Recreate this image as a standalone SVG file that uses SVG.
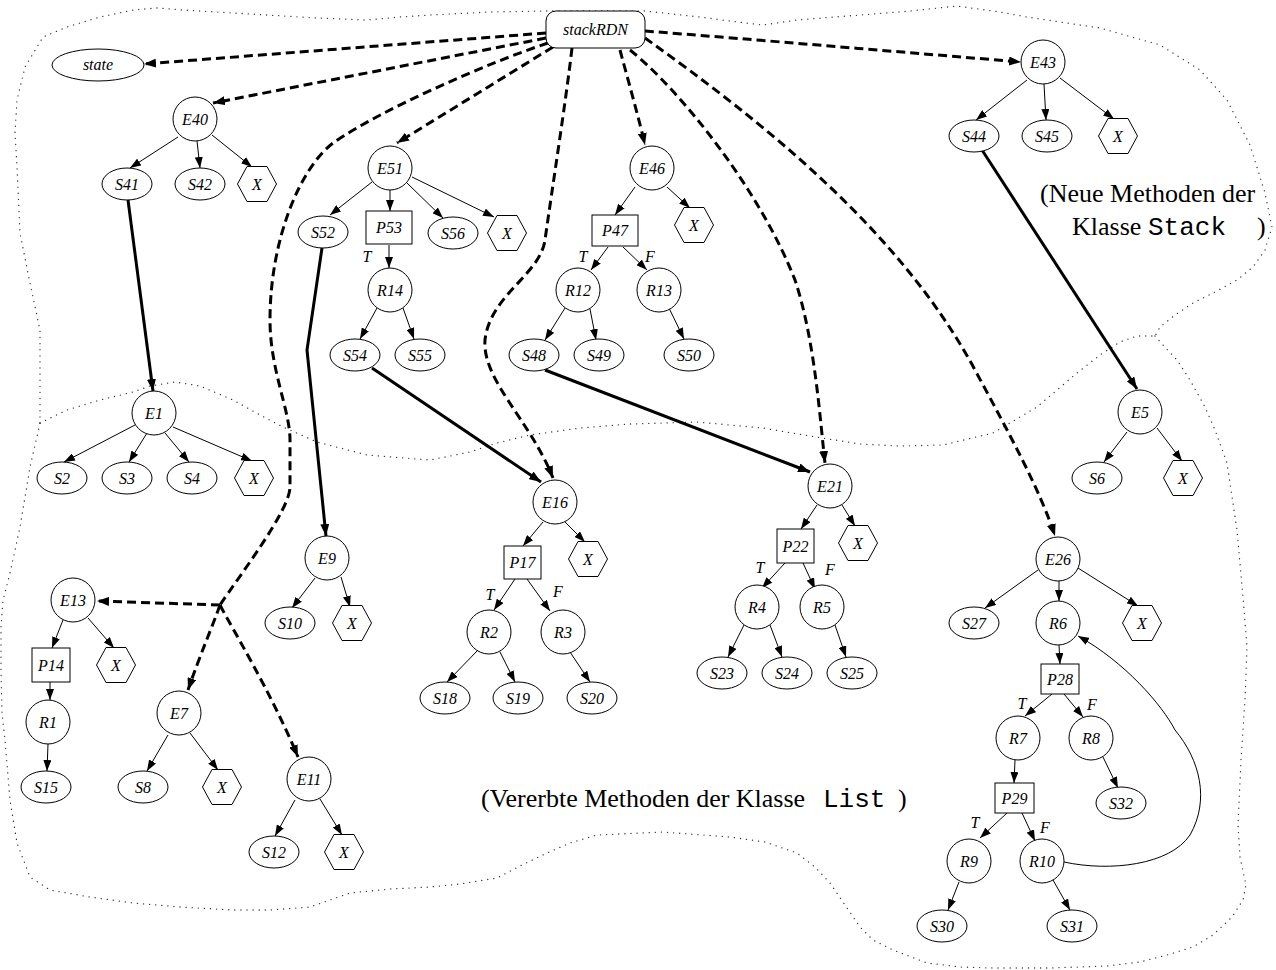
<svg xmlns="http://www.w3.org/2000/svg" xmlns:xlink="http://www.w3.org/1999/xlink" width="1276" height="970" viewBox="0 0 1276 970">
<style>
.th { stroke:#000; stroke-width:1; fill:none; marker-end:url(#ah); }
.da { stroke:#000; stroke-width:3; stroke-dasharray:9 5; fill:none; }
.dah { marker-end:url(#ahb); }
.so { stroke:#000; stroke-width:3; fill:none; marker-end:url(#ahb); }
.dot { stroke:#333; stroke-width:1.3; stroke-dasharray:0.1 6; stroke-linecap:round; stroke-linejoin:round; fill:none; }
.nd circle, .nd ellipse, .nd rect, .nd use { fill:#fff; stroke:#000; stroke-width:1; }
text.l { font-family:"Liberation Serif", "Times New Roman", serif; font-style:italic; font-size:16px; text-anchor:middle; fill:#000; }
text.big { font-family:"Liberation Serif", "Times New Roman", serif; font-size:26px; fill:#000; }
text.mono { font-family:"Liberation Mono", "Courier New", monospace; font-size:26px; fill:#000; }
</style>
<defs>
<marker id="ah" viewBox="0 0 11 8" refX="11" refY="4" markerWidth="11" markerHeight="8" markerUnits="userSpaceOnUse" orient="auto"><path d="M0,0 L11,4 L0,8z" fill="#000"/></marker>
<marker id="ahb" viewBox="0 0 12 9" refX="12" refY="4.5" markerWidth="12" markerHeight="9" markerUnits="userSpaceOnUse" orient="auto"><path d="M0,0 L12,4.5 L0,9z" fill="#000"/></marker>
<polygon id="hex" points="-19.5,0 -10,-17.5 10,-17.5 19.5,0 10,17.5 -10,17.5"/>
</defs>
<rect width="1276" height="970" fill="#fff"/>

<!-- dotted region outlines -->
<g id="regions">
<path class="dot" d="M40,423 L40,380 L40,330 L30,283 L20,233 L17,167 L15,133 L17,100 L25,67 L43,37 L67,27 L100,17 L133,10 L157,8 L183,10 L217,12 L267,15 L317,18 L367,20 L400,17 L430,15 L490,12 L546,11 L645,11 L700,17 L730,21 L763,25 L797,20 L860,15 L910,11 L957,6 L1000,12 L1027,17 L1100,28 L1160,45 L1200,70 L1227,100 L1250,145 L1265,193 L1272,227 L1265,250 L1253,267 L1237,280 L1215,292 L1193,303 L1175,315 L1160,327 L1155,336"/>
<path class="dot" d="M40,423 L67,410 L100,400 L133,392 L150,386 L175,382 L200,386 L233,400 L260,415 L283,427 L317,442 L367,455 L430,460 L470,452 L497,443 L530,435 L580,428 L630,424 L697,422 L763,428 L810,436 L860,444 L900,446 L943,445 L993,433 L1037,407 L1077,373 L1100,355 L1120,342 L1137,336 L1155,336"/>
<path class="dot" d="M1155,336 L1163,345 L1177,360 L1190,380 L1205,407 L1215,430 L1227,463 L1237,530 L1243,597 L1247,647 L1245,700 L1241,760 L1238,825 L1240,857 L1246,885 L1243,900 L1232,917 L1213,935 L1193,947 L1167,955 L1140,962 L1107,966 L1050,968 L993,968 L960,967 L927,963 L893,950 L873,940 L860,927 L845,905 L830,883 L815,867 L797,853 L765,842 L730,837 L663,832 L597,835 L570,843 L547,853 L520,866 L497,878 L460,884 L430,887 L390,889 L350,893 L330,900 L310,907 L270,910 L233,910 L180,907 L133,903 L90,897 L50,890 L30,877 L17,843 L10,800 L5,740 L2,713 L1,670 L1,627 L3,600 L10,573 L20,527 L30,467 L40,423"/>
</g>

<g id="connectors">
<!-- dashed references from stackRDN -->
<path class="da dah" d="M546,33 L144,64"/>
<path class="da dah" d="M546,38 L213,103"/>
<path class="da dah" d="M553,47 L397,143"/>
<path class="da" d="M548,43 C490,62 380,110 333,143 C300,168 270,240 270,320 C270,370 290,410 290,440 L290,487 C290,510 240,575 220,605"/>
<path class="da dah" d="M220,605 L97,601"/>
<path class="da dah" d="M220,605 C213,625 200,655 188,690"/>
<path class="da dah" d="M220,605 C230,625 270,690 298,757"/>
<path class="da dah" d="M572,48 C566,100 552,190 545,240 C540,275 490,295 485,340 C482,380 530,420 553,478"/>
<path class="da dah" d="M620,50 C628,80 638,115 645,145"/>
<path class="da dah" d="M630,50 C680,90 760,190 795,280 C815,340 820,420 825,463"/>
<path class="da dah" d="M645,38 C760,120 900,230 975,370 C1010,435 1040,490 1055,536"/>
<path class="da dah" d="M645,31 C760,40 900,52 1021,62"/>
<!-- thick solid links -->
<path class="so" d="M128,200 L153,391"/>
<path class="so" d="M322,248 L307,350 L326,536"/>
<path class="so" d="M372,368 L541,482"/>
<path class="so" d="M545,370 L810,472"/>
<path class="so" d="M982,150 L1137,389"/>
<!-- back edge R10 -> R6 -->
<path class="th" d="M1064,862 C1110,872 1170,865 1190,835 C1210,800 1200,760 1175,730 C1162,705 1125,662 1078,636"/>
<!-- tree edges -->
<path class="th" d="M178,137 L130,168"/>
<path class="th" d="M197,141 L200,168"/>
<path class="th" d="M212,135 L252,167"/>
<path class="th" d="M372,182 L330,215"/>
<path class="th" d="M390,190 L390,211"/>
<path class="th" d="M407,183 L443,218"/>
<path class="th" d="M412,177 L494,217"/>
<path class="th" d="M389,245 L389,268"/>
<path class="th" d="M377,308 L360,339"/>
<path class="th" d="M403,308 L414,339"/>
<path class="th" d="M635,187 L615,215"/>
<path class="th" d="M667,187 L690,208"/>
<path class="th" d="M608,247 L591,270"/>
<path class="th" d="M623,247 L647,270"/>
<path class="th" d="M565,308 L545,340"/>
<path class="th" d="M590,309 L596,340"/>
<path class="th" d="M669,308 L684,339"/>
<path class="th" d="M1027,80 L976,120"/>
<path class="th" d="M1044,84 L1046,120"/>
<path class="th" d="M1060,78 L1114,119"/>
<path class="th" d="M135,425 L64,462"/>
<path class="th" d="M147,433 L129,462"/>
<path class="th" d="M165,433 L189,462"/>
<path class="th" d="M173,427 L252,461"/>
<path class="th" d="M315,578 L292,608"/>
<path class="th" d="M341,577 L350,607"/>
<path class="th" d="M63,620 L52,648"/>
<path class="th" d="M88,618 L114,648"/>
<path class="th" d="M50,682 L50,700"/>
<path class="th" d="M48,744 L47,771"/>
<path class="th" d="M168,735 L147,771"/>
<path class="th" d="M190,733 L218,770"/>
<path class="th" d="M295,800 L275,836"/>
<path class="th" d="M320,799 L342,835"/>
<path class="th" d="M543,522 L523,546"/>
<path class="th" d="M565,522 L585,542"/>
<path class="th" d="M515,579 L494,610"/>
<path class="th" d="M527,579 L550,611"/>
<path class="th" d="M478,650 L447,682"/>
<path class="th" d="M500,652 L515,682"/>
<path class="th" d="M570,652 L590,682"/>
<path class="th" d="M817,505 L801,529"/>
<path class="th" d="M842,505 L855,526"/>
<path class="th" d="M785,563 L762,588"/>
<path class="th" d="M803,563 L815,589"/>
<path class="th" d="M744,625 L728,657"/>
<path class="th" d="M770,625 L782,657"/>
<path class="th" d="M835,625 L846,657"/>
<path class="th" d="M1127,432 L1104,462"/>
<path class="th" d="M1157,428 L1182,461"/>
<path class="th" d="M1038,570 L985,608"/>
<path class="th" d="M1059,581 L1059,601"/>
<path class="th" d="M1078,568 L1138,606"/>
<path class="th" d="M1059,645 L1060,664"/>
<path class="th" d="M1052,694 L1025,716"/>
<path class="th" d="M1064,694 L1083,717"/>
<path class="th" d="M1015,760 L1014,783"/>
<path class="th" d="M1103,757 L1118,788"/>
<path class="th" d="M1007,813 L980,838"/>
<path class="th" d="M1022,813 L1035,841"/>
<path class="th" d="M959,882 L948,910"/>
<path class="th" d="M1053,880 L1070,910"/>
</g>

<!-- branch labels -->
<g id="branch-labels">
<text class="l" x="367" y="262">T</text>
<text class="l" x="583" y="262">T</text>
<text class="l" x="650" y="262">F</text>
<text class="l" x="490" y="600">T</text>
<text class="l" x="558" y="597">F</text>
<text class="l" x="760" y="573">T</text>
<text class="l" x="830" y="575">F</text>
<text class="l" x="1022" y="709">T</text>
<text class="l" x="1092" y="710">F</text>
<text class="l" x="975" y="828">T</text>
<text class="l" x="1045" y="833">F</text>
</g>

<!-- nodes -->
<g id="n-stackRDN" class="nd"><rect x="546" y="11" width="99" height="37" rx="10"/><text class="l" x="595.5" y="35">stackRDN</text></g>
<g id="n-state" class="nd"><ellipse cx="98" cy="65" rx="46" ry="16"/><text class="l" x="98" y="70">state</text></g>

<g id="n-E40" class="nd"><circle cx="195" cy="119" r="22"/><text class="l" x="195" y="124.5">E40</text></g>
<g id="n-S41" class="nd"><ellipse cx="127" cy="184" rx="25" ry="16"/><text class="l" x="127" y="189.5">S41</text></g>
<g id="n-S42" class="nd"><ellipse cx="200" cy="184" rx="25" ry="16"/><text class="l" x="200" y="189.5">S42</text></g>
<g id="n-X40" class="nd"><use xlink:href="#hex" x="257" y="184"/><text class="l" x="257" y="189.5">X</text></g>

<g id="n-E51" class="nd"><circle cx="390" cy="168" r="22"/><text class="l" x="390" y="173.5">E51</text></g>
<g id="n-S52" class="nd"><ellipse cx="323" cy="232" rx="25" ry="16"/><text class="l" x="323" y="237.5">S52</text></g>
<g id="n-P53" class="nd"><rect x="366" y="211" width="46" height="33"/><text class="l" x="389" y="233">P53</text></g>
<g id="n-S56" class="nd"><ellipse cx="453" cy="233" rx="25" ry="16"/><text class="l" x="453" y="238.5">S56</text></g>
<g id="n-X51" class="nd"><use xlink:href="#hex" x="507" y="233"/><text class="l" x="507" y="238.5">X</text></g>
<g id="n-R14" class="nd"><circle cx="390" cy="290" r="22"/><text class="l" x="390" y="295.5">R14</text></g>
<g id="n-S54" class="nd"><ellipse cx="355" cy="355" rx="25" ry="16"/><text class="l" x="355" y="360.5">S54</text></g>
<g id="n-S55" class="nd"><ellipse cx="420" cy="355" rx="25" ry="16"/><text class="l" x="420" y="360.5">S55</text></g>

<g id="n-E46" class="nd"><circle cx="652" cy="168" r="22"/><text class="l" x="652" y="173.5">E46</text></g>
<g id="n-P47" class="nd"><rect x="592" y="215" width="46" height="31"/><text class="l" x="615" y="236">P47</text></g>
<g id="n-X46" class="nd"><use xlink:href="#hex" x="694" y="225"/><text class="l" x="694" y="230.5">X</text></g>
<g id="n-R12" class="nd"><circle cx="578" cy="290" r="22"/><text class="l" x="578" y="295.5">R12</text></g>
<g id="n-R13" class="nd"><circle cx="659" cy="290" r="22"/><text class="l" x="659" y="295.5">R13</text></g>
<g id="n-S48" class="nd"><ellipse cx="534" cy="355" rx="25" ry="16"/><text class="l" x="534" y="360.5">S48</text></g>
<g id="n-S49" class="nd"><ellipse cx="599" cy="355" rx="25" ry="16"/><text class="l" x="599" y="360.5">S49</text></g>
<g id="n-S50" class="nd"><ellipse cx="689" cy="355" rx="25" ry="16"/><text class="l" x="689" y="360.5">S50</text></g>

<g id="n-E43" class="nd"><circle cx="1043" cy="62" r="22"/><text class="l" x="1043" y="67.5">E43</text></g>
<g id="n-S44" class="nd"><ellipse cx="974" cy="136" rx="25" ry="16"/><text class="l" x="974" y="141.5">S44</text></g>
<g id="n-S45" class="nd"><ellipse cx="1047" cy="136" rx="25" ry="16"/><text class="l" x="1047" y="141.5">S45</text></g>
<g id="n-X43" class="nd"><use xlink:href="#hex" x="1118" y="136"/><text class="l" x="1118" y="141.5">X</text></g>

<g id="n-E1" class="nd"><circle cx="154" cy="413" r="22"/><text class="l" x="154" y="418.5">E1</text></g>
<g id="n-S2" class="nd"><ellipse cx="62" cy="478" rx="25" ry="16"/><text class="l" x="62" y="483.5">S2</text></g>
<g id="n-S3" class="nd"><ellipse cx="127" cy="478" rx="25" ry="16"/><text class="l" x="127" y="483.5">S3</text></g>
<g id="n-S4" class="nd"><ellipse cx="192" cy="478" rx="25" ry="16"/><text class="l" x="192" y="483.5">S4</text></g>
<g id="n-X1" class="nd"><use xlink:href="#hex" x="254" y="478"/><text class="l" x="254" y="483.5">X</text></g>

<g id="n-E9" class="nd"><circle cx="327" cy="558" r="22"/><text class="l" x="327" y="563.5">E9</text></g>
<g id="n-S10" class="nd"><ellipse cx="290" cy="623" rx="25" ry="16"/><text class="l" x="290" y="628.5">S10</text></g>
<g id="n-X9" class="nd"><use xlink:href="#hex" x="352" y="623"/><text class="l" x="352" y="628.5">X</text></g>

<g id="n-E13" class="nd"><circle cx="73" cy="600" r="22"/><text class="l" x="73" y="605.5">E13</text></g>
<g id="n-P14" class="nd"><rect x="32" y="648" width="38" height="34"/><text class="l" x="51" y="670.5">P14</text></g>
<g id="n-X13" class="nd"><use xlink:href="#hex" x="116" y="665"/><text class="l" x="116" y="670.5">X</text></g>
<g id="n-R1" class="nd"><circle cx="48" cy="722" r="22"/><text class="l" x="48" y="727.5">R1</text></g>
<g id="n-S15" class="nd"><ellipse cx="46" cy="787" rx="25" ry="16"/><text class="l" x="46" y="792.5">S15</text></g>

<g id="n-E7" class="nd"><circle cx="179" cy="713" r="22"/><text class="l" x="179" y="718.5">E7</text></g>
<g id="n-S8" class="nd"><ellipse cx="143" cy="787" rx="25" ry="16"/><text class="l" x="143" y="792.5">S8</text></g>
<g id="n-X7" class="nd"><use xlink:href="#hex" x="222" y="787"/><text class="l" x="222" y="792.5">X</text></g>

<g id="n-E11" class="nd"><circle cx="309" cy="779" r="22"/><text class="l" x="309" y="784.5">E11</text></g>
<g id="n-S12" class="nd"><ellipse cx="274" cy="852" rx="25" ry="16"/><text class="l" x="274" y="857.5">S12</text></g>
<g id="n-X11" class="nd"><use xlink:href="#hex" x="344" y="852"/><text class="l" x="344" y="857.5">X</text></g>

<g id="n-E16" class="nd"><circle cx="555" cy="502" r="22"/><text class="l" x="555" y="507.5">E16</text></g>
<g id="n-P17" class="nd"><rect x="504" y="546" width="37" height="33"/><text class="l" x="522.5" y="568">P17</text></g>
<g id="n-X16" class="nd"><use xlink:href="#hex" x="588" y="559"/><text class="l" x="588" y="564.5">X</text></g>
<g id="n-R2" class="nd"><circle cx="489" cy="632" r="22"/><text class="l" x="489" y="637.5">R2</text></g>
<g id="n-R3" class="nd"><circle cx="563" cy="632" r="22"/><text class="l" x="563" y="637.5">R3</text></g>
<g id="n-S18" class="nd"><ellipse cx="445" cy="698" rx="25" ry="16"/><text class="l" x="445" y="703.5">S18</text></g>
<g id="n-S19" class="nd"><ellipse cx="518" cy="698" rx="25" ry="16"/><text class="l" x="518" y="703.5">S19</text></g>
<g id="n-S20" class="nd"><ellipse cx="592" cy="698" rx="25" ry="16"/><text class="l" x="592" y="703.5">S20</text></g>

<g id="n-E21" class="nd"><circle cx="830" cy="486" r="22"/><text class="l" x="830" y="491.5">E21</text></g>
<g id="n-P22" class="nd"><rect x="777" y="529" width="37" height="34"/><text class="l" x="795.5" y="551.5">P22</text></g>
<g id="n-X21" class="nd"><use xlink:href="#hex" x="858" y="543"/><text class="l" x="858" y="548.5">X</text></g>
<g id="n-R4" class="nd"><circle cx="757" cy="607" r="22"/><text class="l" x="757" y="612.5">R4</text></g>
<g id="n-R5" class="nd"><circle cx="822" cy="607" r="22"/><text class="l" x="822" y="612.5">R5</text></g>
<g id="n-S23" class="nd"><ellipse cx="722" cy="673" rx="25" ry="16"/><text class="l" x="722" y="678.5">S23</text></g>
<g id="n-S24" class="nd"><ellipse cx="787" cy="673" rx="25" ry="16"/><text class="l" x="787" y="678.5">S24</text></g>
<g id="n-S25" class="nd"><ellipse cx="852" cy="673" rx="25" ry="16"/><text class="l" x="852" y="678.5">S25</text></g>

<g id="n-E5" class="nd"><circle cx="1140" cy="412" r="22"/><text class="l" x="1140" y="417.5">E5</text></g>
<g id="n-S6" class="nd"><ellipse cx="1097" cy="478" rx="25" ry="16"/><text class="l" x="1097" y="483.5">S6</text></g>
<g id="n-X5" class="nd"><use xlink:href="#hex" x="1183" y="478"/><text class="l" x="1183" y="483.5">X</text></g>

<g id="n-E26" class="nd"><circle cx="1058" cy="559" r="22"/><text class="l" x="1058" y="564.5">E26</text></g>
<g id="n-S27" class="nd"><ellipse cx="974" cy="623" rx="25" ry="16"/><text class="l" x="974" y="628.5">S27</text></g>
<g id="n-R6" class="nd"><circle cx="1058" cy="623" r="22"/><text class="l" x="1058" y="628.5">R6</text></g>
<g id="n-X26" class="nd"><use xlink:href="#hex" x="1142" y="623"/><text class="l" x="1142" y="628.5">X</text></g>
<g id="n-P28" class="nd"><rect x="1041" y="664" width="38" height="30"/><text class="l" x="1060" y="684.5">P28</text></g>
<g id="n-R7" class="nd"><circle cx="1018" cy="738" r="22"/><text class="l" x="1018" y="743.5">R7</text></g>
<g id="n-R8" class="nd"><circle cx="1091" cy="738" r="22"/><text class="l" x="1091" y="743.5">R8</text></g>
<g id="n-P29" class="nd"><rect x="995" y="783" width="39" height="30"/><text class="l" x="1014.5" y="803.5">P29</text></g>
<g id="n-S32" class="nd"><ellipse cx="1121" cy="803" rx="25" ry="16"/><text class="l" x="1121" y="808.5">S32</text></g>
<g id="n-R9" class="nd"><circle cx="969" cy="861" r="22"/><text class="l" x="969" y="866.5">R9</text></g>
<g id="n-R10" class="nd"><circle cx="1042" cy="861" r="22"/><text class="l" x="1042" y="866.5">R10</text></g>
<g id="n-S30" class="nd"><ellipse cx="942" cy="926" rx="25" ry="16"/><text class="l" x="942" y="931.5">S30</text></g>
<g id="n-S31" class="nd"><ellipse cx="1072" cy="926" rx="25" ry="16"/><text class="l" x="1072" y="931.5">S31</text></g>

<!-- region captions -->
<g id="captions">
<text class="big" x="1040" y="202">(Neue Methoden der</text>
<text class="big" x="1072" y="235">Klasse</text>
<text class="mono" x="1148" y="235">Stack</text>
<text class="big" x="1257" y="235">)</text>
<text class="big" x="481" y="807">(Vererbte Methoden der Klasse</text>
<text class="mono" x="823" y="807">List</text>
<text class="big" x="898" y="807">)</text>
</g>
</svg>
